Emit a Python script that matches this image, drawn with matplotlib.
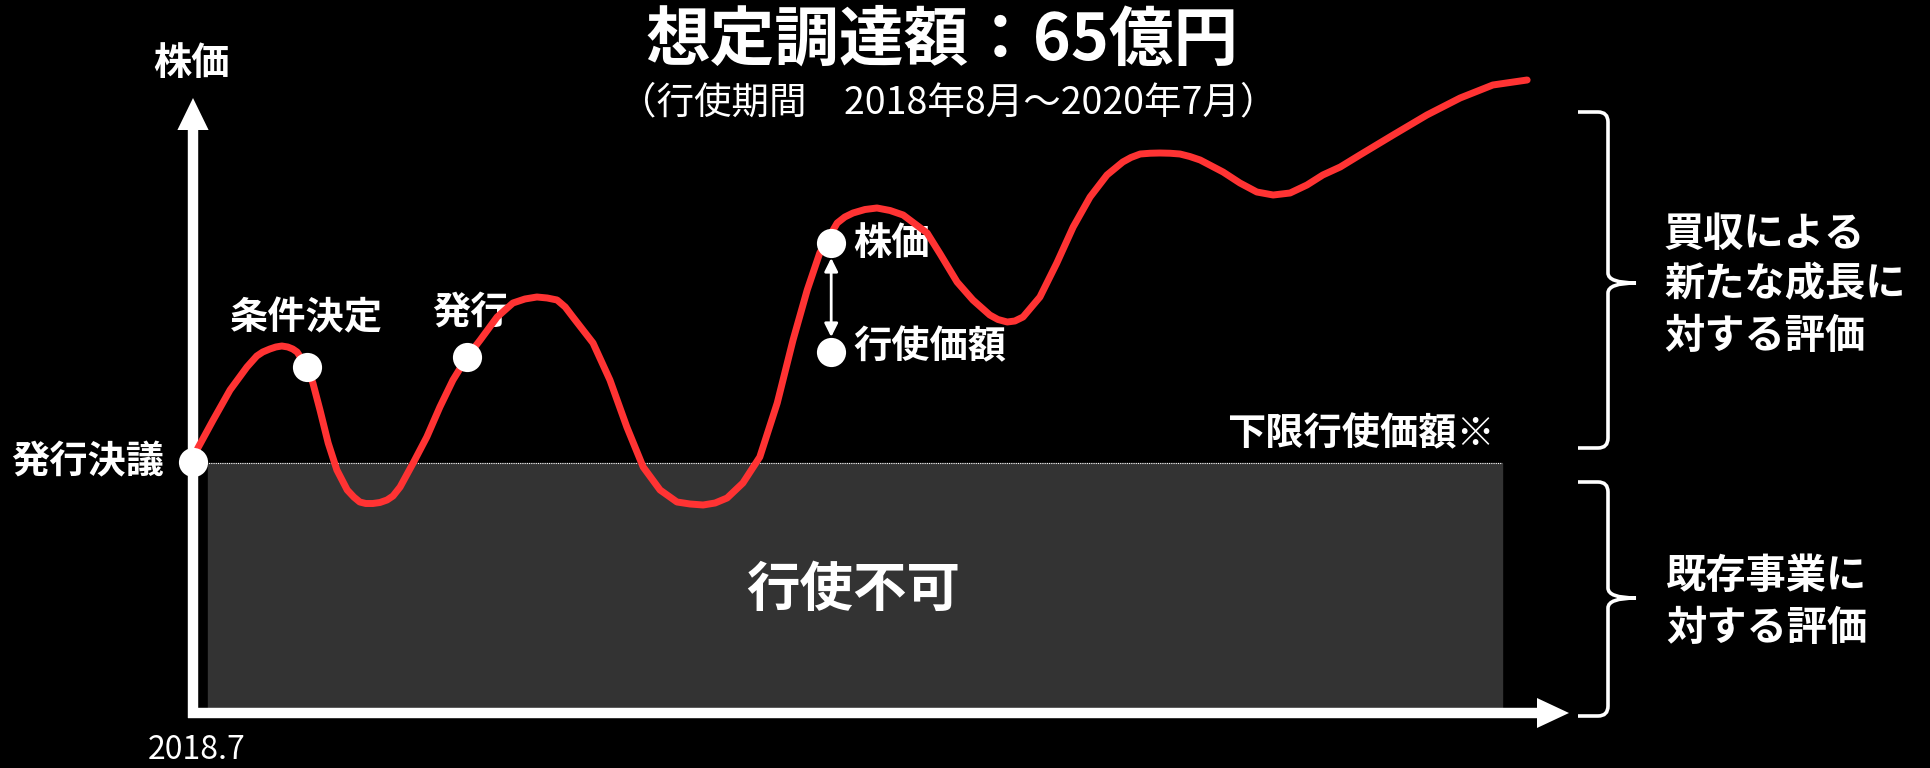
import numpy as np
import matplotlib.pyplot as plt
from matplotlib.path import Path
from matplotlib.patches import PathPatch, Rectangle
from matplotlib.transforms import Affine2D

plt.rcParams['font.family'] = ['Noto Sans CJK JP', 'DejaVu Sans']

# share price path, months since 2018.7 / price (lower exercise price = 100)
curve_month = [0.0, 0.09, 0.37, 0.68, 0.99, 1.17, 1.28, 1.41, 1.52, 1.63,
               1.74, 1.83, 1.91, 2.09, 2.20, 2.33, 2.48, 2.64, 2.83, 2.95,
               3.06, 3.17, 3.30, 3.43, 3.56, 3.67, 3.80, 4.04, 4.29, 4.53,
               4.77, 5.03, 5.27, 5.58, 5.87, 6.09, 6.31, 6.50, 6.68, 6.83,
               6.97, 7.34, 7.65, 7.96, 8.26, 8.57, 8.88, 9.12, 9.36, 9.58,
               9.80, 10.09, 10.40, 10.72, 11.01, 11.27, 11.50, 11.82, 11.96,
               12.11, 12.33, 12.55, 12.79, 13.03, 13.47, 13.71, 14.02, 14.31,
               14.62, 14.77, 14.94, 15.08, 15.23, 15.54, 15.85, 16.15, 16.46,
               16.77, 17.06, 17.21, 17.38, 17.56, 17.74, 17.93, 18.11, 18.29,
               18.48, 18.90, 19.21, 19.52, 19.82, 20.13, 20.44, 20.73, 21.05,
               21.41, 22.02, 22.64, 23.25, 23.85, 24.48]
curve_price = [101.2, 106.0, 117.2, 129.2, 138.4, 142.8, 144.4, 145.6, 146.4,
               146.8, 146.4, 145.6, 144.4, 138.4, 132.0, 121.2, 108.0, 97.2,
               89.2, 86.4, 84.4, 83.8, 83.8, 84.2, 85.2, 86.8, 90.4, 100.0,
               110.4, 122.4, 133.2, 142.4, 149.2, 158.4, 164.0, 165.6, 166.4,
               166.0, 165.2, 162.4, 158.4, 148.0, 133.2, 114.4, 98.4, 89.2,
               84.4, 83.6, 83.2, 84.0, 86.0, 92.0, 102.4, 124.0, 149.2, 169.2,
               184.0, 196.0, 198.4, 200.0, 201.4, 202.0, 201.0, 199.2, 192.0,
               183.6, 172.4, 165.2, 159.2, 157.4, 156.4, 156.8, 158.4, 166.4,
               180.0, 194.4, 206.4, 215.2, 220.4, 222.2, 223.6, 223.9, 224.0,
               223.9, 223.6, 222.6, 221.2, 216.4, 212.0, 208.4, 207.2, 208.0,
               211.2, 215.2, 218.4, 223.2, 231.2, 239.2, 246.0, 251.2, 253.2]

floor_price = 100
period_end = 24.02

event_labels = ['発行決議', '条件決定', '発行', '株価', '行使価額']
event_month = [0.0, 2.09, 5.03, 11.71, 11.71]
event_price = [100.4, 138.4, 142.4, 188.0, 144.4]

title = '想定調達額：65億円'
subtitle = '（行使期間　2018年8月～2020年7月）'
upper_note = ['買収による', '新たな成長に', '対する評価']
lower_note = ['既存事業に', '対する評価']

W, H = 1931, 768
X0, Y0 = 193, 713          # pixel position of the origin
PXM, PXP = 54.5, 2.5       # pixels per month / per price unit

fig = plt.figure(figsize=(W / 100, H / 100), dpi=100, facecolor='black')
ax = fig.add_axes([0, 0, 1, 1])
ax.set_facecolor('black')
ax.set_xlim(-X0 / PXM, (W - X0) / PXM)
ax.set_ylim((Y0 - H) / PXP, Y0 / PXP)
ax.axis('off')

# pixel transform (origin top-left) for decorations
pix = Affine2D().scale(1 / W, -1 / H).translate(0, 1) + fig.transFigure

# exercise-not-possible zone and floor line
ax.add_patch(Rectangle((15 / PXM, 0), period_end - 15 / PXM, floor_price,
                       color='#333333', zorder=1))
ax.plot([0, period_end], [floor_price, floor_price], color='white', lw=0.8,
        ls=(0, (1, 1)), zorder=2)

# axes with arrows
ax.plot([0, 0], [-5 / PXP, (Y0 - 128) / PXP], color='white', lw=7.5,
        solid_capstyle='butt', zorder=3)
ax.fill([-15.6 / PXM, 15.6 / PXM, 0],
        [(Y0 - 130) / PXP, (Y0 - 130) / PXP, (Y0 - 98) / PXP],
        color='white', zorder=3, lw=0)
ax.plot([-5.5 / PXM, (1539 - X0) / PXM], [0, 0], color='white', lw=7.5,
        solid_capstyle='butt', zorder=3)
ax.fill([(1537 - X0) / PXM, (1537 - X0) / PXM, (1569 - X0) / PXM],
        [15 / PXP, -15 / PXP, 0], color='white', zorder=3, lw=0)

# price curve
ax.plot(curve_month, curve_price, color='#ff3333', lw=5,
        solid_capstyle='round', solid_joinstyle='round', zorder=4)

# event points
ax.plot(event_month, event_price, 'o', color='white', ms=21, mec='none',
        zorder=5)
ax.annotate('', xy=(event_month[3], event_price[3] - 15 / PXP),
            xytext=(event_month[4], event_price[4] + 15 / PXP),
            arrowprops=dict(arrowstyle='<|-|>', color='white', lw=2,
                            mutation_scale=20, shrinkA=0, shrinkB=0),
            zorder=5)

bold = dict(color='white', fontsize=27.5, fontweight='bold', va='center')
offsets = [(-29, 0, 'right'), (0, -49, 'center'), (3, -45, 'center'),
           (22, 0, 'left'), (22, -5, 'left')]
for lab, m, p, (dx, dy, ha) in zip(event_labels, event_month, event_price,
                                   offsets):
    ax.text(m + dx / PXM, p - dy / PXP, lab, ha=ha, **bold)

fig.text(192 / W, 1 - 64 / H, '株価', ha='center', **bold)
fig.text(1495 / W, 1 - 434 / H, '下限行使価額※', ha='right', **bold)
fig.text(853 / W, 1 - 590 / H, '行使不可', ha='center', color='white',
         fontsize=38.5, fontweight='bold', va='center')
fig.text(942 / W, 1 - 41 / H, title, ha='center', va='center', color='white',
         fontsize=46.5, fontweight='bold')
fig.text(948 / W, 1 - 103 / H, subtitle, ha='center', va='center',
         color='white', fontsize=27)
fig.text(197 / W, 1 - 750 / H, '2018.7', ha='center', va='center',
         color='white', fontsize=23)


def brace(y_top, y_tip, y_bot, xa=1578, xb=1608, xc=1636, r=10):
    verts = [(xa, y_top), (xb - r, y_top), (xb, y_top), (xb, y_top + r),
             (xb, y_tip - r), (xb, y_tip), (xc, y_tip),
             (xb, y_tip), (xb, y_tip + r),
             (xb, y_bot - r), (xb, y_bot), (xb - r, y_bot), (xa, y_bot)]
    codes = [Path.MOVETO, Path.LINETO, Path.CURVE3, Path.CURVE3,
             Path.LINETO, Path.CURVE3, Path.CURVE3,
             Path.CURVE3, Path.CURVE3,
             Path.LINETO, Path.CURVE3, Path.CURVE3, Path.LINETO]
    fig.add_artist(PathPatch(Path(verts, codes), fc='none', ec='white',
                             lw=2.6, transform=pix))


brace(112, 283, 448)
brace(482, 598, 716)

note = dict(color='white', fontsize=29, fontweight='bold', va='center',
            ha='left')
for i, line in enumerate(upper_note):
    fig.text(1664 / W, 1 - (234 + 51 * i) / H, line, **note)
for i, line in enumerate(lower_note):
    fig.text(1666 / W, 1 - (577 + 51 * i) / H, line, **note)

fig.savefig('out.png', dpi=100, facecolor='black')
